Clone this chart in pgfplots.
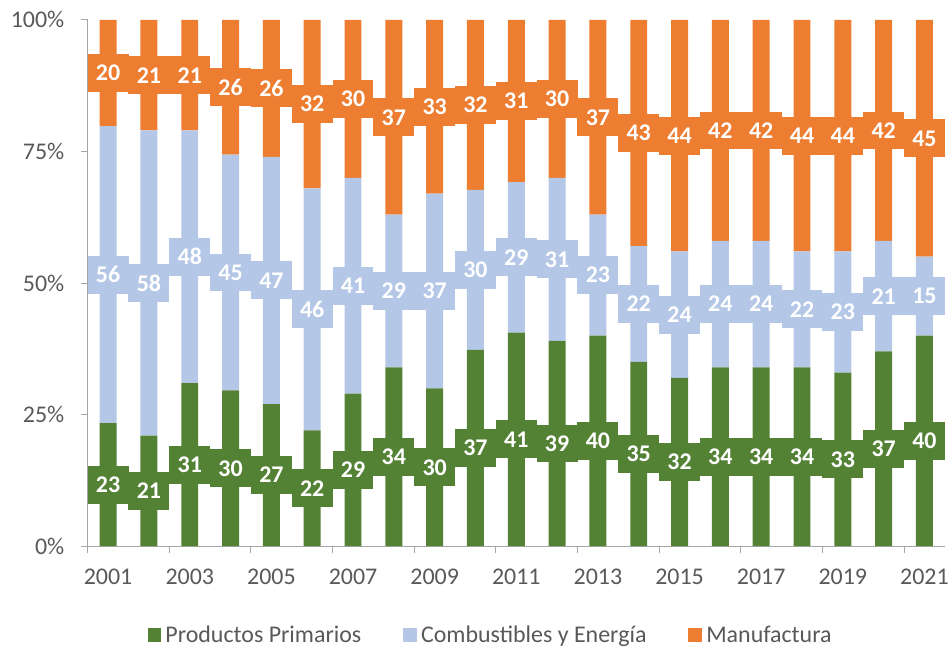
\documentclass[border=0pt]{standalone}
\usepackage{fontspec}
\setmainfont{Carlito}
\usepackage{pgfplots}
\usepackage{pgfplotstable}
\pgfplotsset{compat=1.18}
\definecolor{cgreen}{HTML}{548235}
\definecolor{cblue}{HTML}{B4C7E7}
\definecolor{corange}{HTML}{ED7D31}
\definecolor{ctext}{HTML}{595959}
\definecolor{caxis}{HTML}{A6A6A6}

% x: 0 = 2001 ... 20 = 2021 ; p = Productos Primarios, c = Combustibles y Energia, m = Manufactura
\pgfplotstableread{
x p c m
0 23.4 56.4 20.2
1 21 58 21
2 31 48 21
3 29.6 44.8 25.6
4 27 47 26
5 22 46 32
6 29 41 30
7 34 29 37
8 30 37 33
9 37.3 30.4 32.3
10 40.6 28.6 30.8
11 39 31 30
12 40 23 37
13 35 22 43
14 32 24 44
15 34 24 42
16 34 24 42
17 34 22 44
18 33 23 44
19 37 21 42
20 40 15 45
}\datatable
\pgfplotstablecreatecol[create col/expr={\thisrow{p}/2}]{yp}\datatable
\pgfplotstablecreatecol[create col/expr={\thisrow{p}+\thisrow{c}/2}]{yc}\datatable
\pgfplotstablecreatecol[create col/expr={\thisrow{p}+\thisrow{c}+\thisrow{m}/2}]{ym}\datatable

\pgfplotsset{
  mylegend/.style={legend image code/.code={\fill[##1] (0pt,-7pt) rectangle (14pt,7pt); \path (16pt,0pt);}},
  lbl/.style={draw=none, mark=none, nodes near coords={\pgfmathprintnumber[fixed,precision=0]{\pgfplotspointmeta}},
    point meta=explicit,
    every node near coord/.append style={anchor=center, fill=#1, text=white,
      font=\fontsize{24}{28}\selectfont\bfseries, minimum width=41pt, minimum height=38pt, inner sep=0pt}},
}

\begin{document}
\begin{tikzpicture}
\begin{axis}[name=main, scale only axis, width=860pt, height=528pt,
  ybar stacked, bar width=17pt,
  xmin=-0.5, xmax=20.5, ymin=0, ymax=100,
  axis x line*=bottom, axis y line*=left,
  axis line style={caxis, line width=1pt},
  xtick={-0.5,1.5,...,19.5}, xticklabels={},
  ytick={0,25,50,75,100}, yticklabels={0\%,25\%,50\%,75\%,100\%},
  tick align=outside, major tick length=7pt,
  tick style={caxis, line width=1pt},
  yticklabel style={font=\fontsize{24}{28}\selectfont, text=ctext, xshift=-13pt},
  /pgf/number format/assume math mode=true,
  legend style={draw=none, at={(0.47,-0.168)}, anchor=center, legend columns=3,
    font=\fontsize{24}{28}\selectfont, text=ctext,
    /tikz/every even column/.append style={column sep=40pt}},
  legend cell align=left,
]
\addplot[fill=cgreen, draw=none, mylegend] table[x=x, y=p] {\datatable};
\addlegendentry{Productos Primarios}
\addplot[fill=cblue, draw=none, mylegend] table[x=x, y=c] {\datatable};
\addlegendentry{Combustibles y Energía}
\addplot[fill=corange, draw=none, mylegend] table[x=x, y=m] {\datatable};
\addlegendentry{Manufactura}
\end{axis}
\begin{axis}[at={(main.south west)}, anchor=south west,
  scale only axis, width=860pt, height=528pt,
  xmin=-0.5, xmax=20.5, ymin=0, ymax=100, clip=false,
  axis x line*=bottom, axis y line=none,
  axis line style={draw=none}, tick style={draw=none},
  xtick={0,2,...,20},
  xticklabels={2001,2003,2005,2007,2009,2011,2013,2015,2017,2019,2021},
  ytick=\empty,
  xticklabel style={font=\fontsize{24}{28}\selectfont, text=ctext, yshift=-19pt},
  /pgf/number format/assume math mode=true,
]
\addplot[lbl=cgreen] table[x=x, y=yp, meta=p] {\datatable};
\addplot[lbl=cblue] table[x=x, y=yc, meta=c] {\datatable};
\addplot[lbl=corange] table[x=x, y=ym, meta=m] {\datatable};
\end{axis}
\path ([shift={(-88pt,-96pt)}]main.south west) rectangle ([shift={(4pt,20pt)}]main.north east);
\end{tikzpicture}
\end{document}
